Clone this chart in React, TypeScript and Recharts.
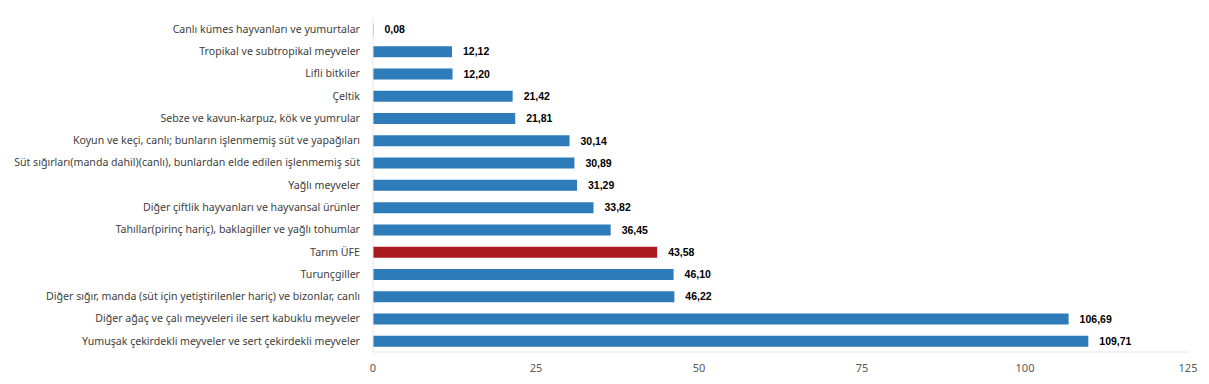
import React from 'react';
import { BarChart, Bar, XAxis, YAxis, Cell, LabelList } from 'recharts';

const categories = [
  'Canlı kümes hayvanları ve yumurtalar',
  'Tropikal ve subtropikal meyveler',
  'Lifli bitkiler',
  'Çeltik',
  'Sebze ve kavun-karpuz, kök ve yumrular',
  'Koyun ve keçi, canlı; bunların işlenmemiş süt ve yapağıları',
  'Süt sığırları(manda dahil)(canlı), bunlardan elde edilen işlenmemiş süt',
  'Yağlı meyveler',
  'Diğer çiftlik hayvanları ve hayvansal ürünler',
  'Tahıllar(pirinç hariç), baklagiller ve yağlı tohumlar',
  'Tarım ÜFE',
  'Turunçgiller',
  'Diğer sığır, manda (süt için yetiştirilenler hariç) ve bizonlar, canlı',
  'Diğer ağaç ve çalı meyveleri ile sert kabuklu meyveler',
  'Yumuşak çekirdekli meyveler ve sert çekirdekli meyveler',
];

const values = [0.08, 12.12, 12.2, 21.42, 21.81, 30.14, 30.89, 31.29, 33.82, 36.45, 43.58, 46.1, 46.22, 106.69, 109.71];

const xTicks = [0, 25, 50, 75, 100, 125];

const highlight = 'Tarım ÜFE';

const data = categories.map((name, i) => ({ name, value: values[i] }));

const fmt = (v: any) => Number(v).toFixed(2).replace('.', ',');

// single-line category label, no wrapping
const CategoryTick = (props: any) => {
  const { x, y, payload } = props;
  return (
    <text
      x={x}
      y={y}
      dy="0.355em"
      textAnchor="end"
      fill="#404040"
      fontSize={10.6}
      fontFamily="Noto Sans"
    >
      {payload.value}
    </text>
  );
};

const App: React.FC = () => {
  return (
    <div style={{ position: 'absolute', left: 0, top: 0 }}>
      <BarChart
        width={1209}
        height={384}
        data={data}
        layout="vertical"
        margin={{ top: 18, right: 21, bottom: 2, left: 0 }}
      >
        <XAxis
          type="number"
          domain={[0, 125]}
          ticks={xTicks}
          tickLine={false}
          axisLine={{ stroke: '#e6e6e6' }}
          height={30}
          tickMargin={6}
          tick={{ fill: '#595959', fontSize: 11, fontFamily: 'Noto Sans' }}
        />
        <YAxis
          type="category"
          dataKey="name"
          width={373}
          tickLine={false}
          axisLine={{ stroke: '#e6e6e6' }}
          tickMargin={7}
          interval={0}
          tick={<CategoryTick />}
        />
        <Bar dataKey="value" barSize={11} isAnimationActive={false}>
          {data.map((d) => (
            <Cell key={d.name} fill={d.name === highlight ? '#ab1a20' : '#2e7bb9'} />
          ))}
          <LabelList
            dataKey="value"
            position="right"
            offset={11}
            formatter={fmt}
            style={{ fill: '#000', fontSize: 10.5, fontWeight: 700, fontFamily: 'Liberation Sans' }}
          />
        </Bar>
      </BarChart>
    </div>
  );
};

export default App;
